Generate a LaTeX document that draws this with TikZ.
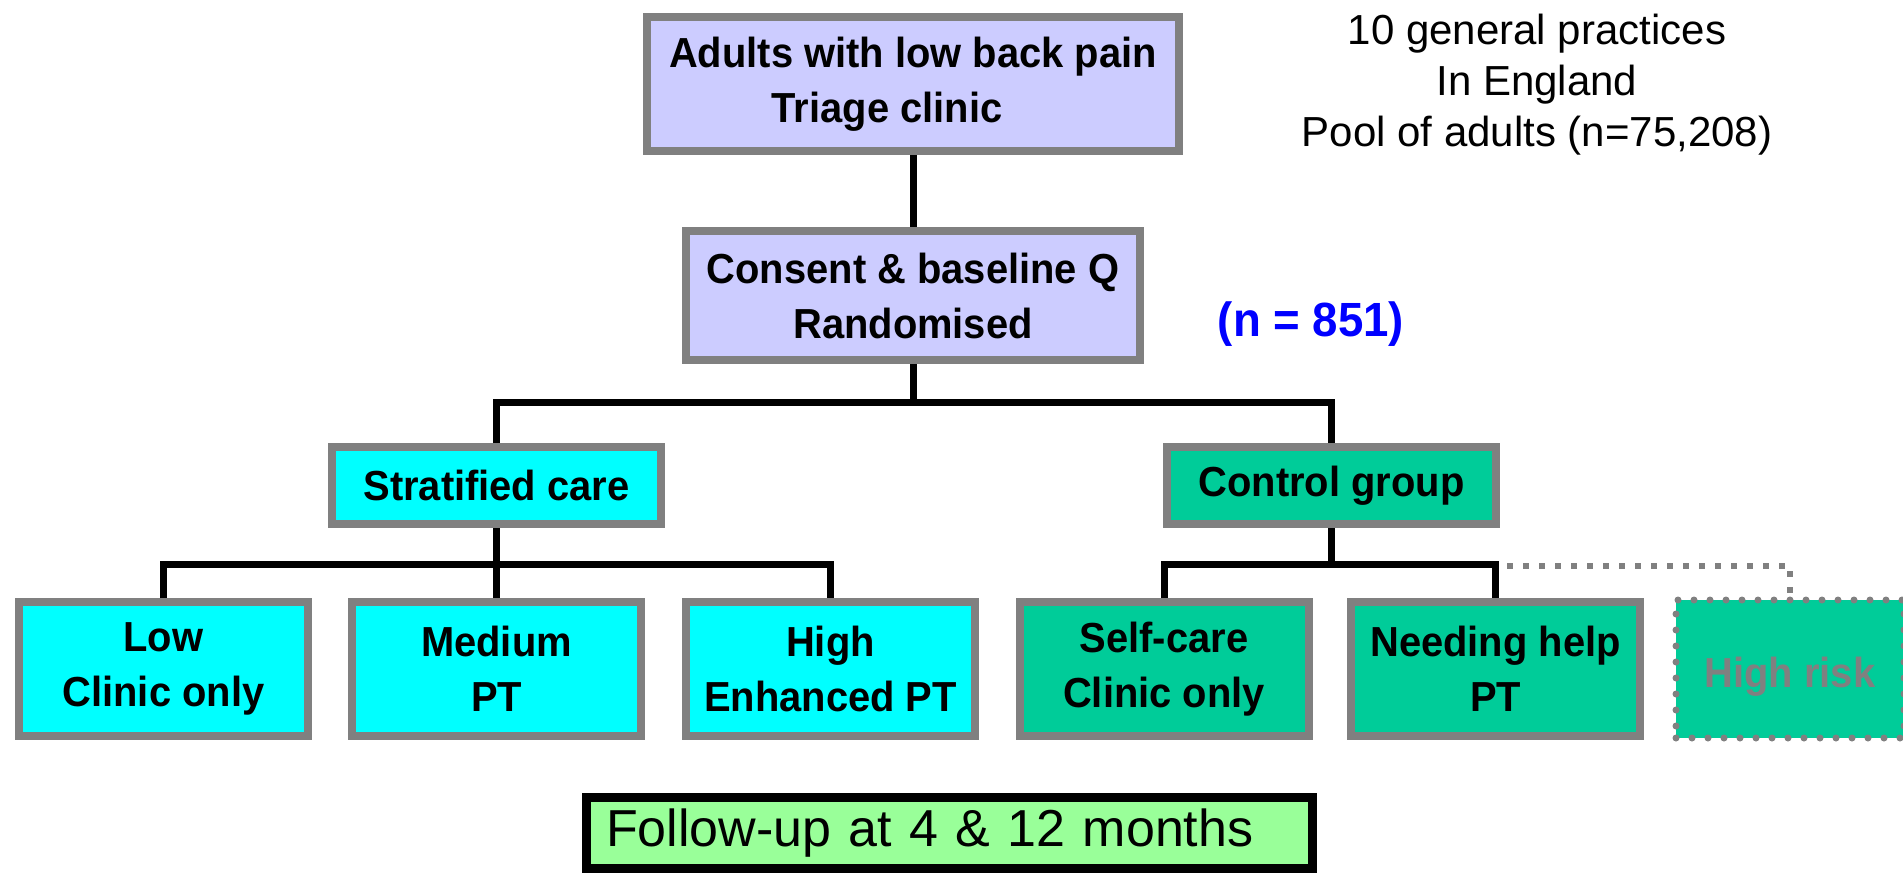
\documentclass[tikz,border=0pt]{standalone}
\usepackage{fontspec}
\setmainfont{Liberation Sans}[BoldFeatures={FakeStretch=0.95}]
\definecolor{edgegray}{HTML}{808080}
\definecolor{lavender}{HTML}{CCCCFF}
\definecolor{stratcyan}{HTML}{00FFFF}
\definecolor{ctrlgreen}{HTML}{00CC99}
\definecolor{followgreen}{HTML}{99FF99}
\definecolor{nblue}{HTML}{0000FF}
\begin{document}
\begin{tikzpicture}[x=0.5pt,y=-0.5pt,
  box/.style={draw=edgegray, line width=4pt, align=center, inner sep=0pt,
    font=\fontsize{21}{27.5}\selectfont\bfseries},
  triage/.style={box, fill=lavender},
  strat/.style={box, fill=stratcyan},
  ctrl/.style={box, fill=ctrlgreen},
  armbox/.style={minimum width=164.5pt, minimum height=38.5pt},
  leaf/.style={minimum width=144.5pt, minimum height=67pt},
  link/.style={line width=3.5pt, draw=black},
  faint/.style={line width=3pt, draw=edgegray, dash pattern=on 3pt off 5pt},
  ghost/.style={ctrl, draw=edgegray, line width=3.5pt, line cap=round,
    dash pattern=on 0pt off 8pt, text=edgegray},
  note/.style={align=center, font=\fontsize{21}{25.5}\selectfont},
]
\useasboundingbox (0,0) rectangle (1903,873);

% main trunk
\node[triage, minimum width=266pt, minimum height=67pt] (adults) at (913,84)
  {Adults with low back pain\\\hbox{Triage clinic\kern26pt}};
\node[triage, minimum width=227pt, minimum height=64.5pt] (consent) at (913,295.5)
  {Consent \& baseline Q\\Randomised};

% arms
\node[strat, armbox] (stratified) at (496.5,485.5) {Stratified care};
\node[ctrl, armbox] (control) at (1331.5,485.5) {Control group};

% leaves
\node[strat, leaf] (low) at (163.5,669) {Low\\Clinic only};
\node[strat, leaf] (medium) at (496.5,669) {Medium\\PT};
\node[strat, leaf] (high) at (830.5,669) {High\\Enhanced PT};
\node[ctrl, leaf] (selfcare) at (1164,669) {Self-care\\Clinic only};
\node[ctrl, leaf] (needhelp) at (1495.5,669) {Needing help\\PT};
\node[ghost, minimum width=114pt, minimum height=69pt] (highrisk) at (1790,669)
  {\raisebox{-4pt}[\height][\depth]{High risk}};

% side notes
\node[note] (practices) at (1537,85)
  {10 general practices\\In England\\Pool of adults (n=75,208)};
\node[font=\fontsize{24}{28}\selectfont\bfseries, text=nblue] (count) at (1311,324) {(n = 851)};

% follow-up
\node[draw=black, line width=4.5pt, fill=followgreen, minimum width=363pt,
  minimum height=35.5pt, text width=343pt, inner xsep=10pt, inner ysep=0pt, align=left,
  font=\fontsize{26}{30}\selectfont] (followup) at (949,833) {Follow-up at 4 \& 12 months};

% connectors
\coordinate (fork1) at (913,402);
\coordinate (fork2) at (496.5,564);
\coordinate (fork3) at (1331.5,564);
\coordinate (tap) at (1507,566);

\draw[link] (adults) -- (consent);
\draw[link] (consent.south) -- (fork1);
\draw[link] (stratified.north) |- (fork1) -| (control.north);

\draw[link] (stratified.south) -- (fork2);
\draw[link] (low.north) |- (fork2) -| (high.north);
\draw[link] (fork2) -- (medium.north);

\draw[link] (control.south) -- (fork3);
\draw[link] (selfcare.north) |- (fork3) -| (needhelp.north);
\draw[faint] (tap) -| (highrisk.north);
\end{tikzpicture}
\end{document}
